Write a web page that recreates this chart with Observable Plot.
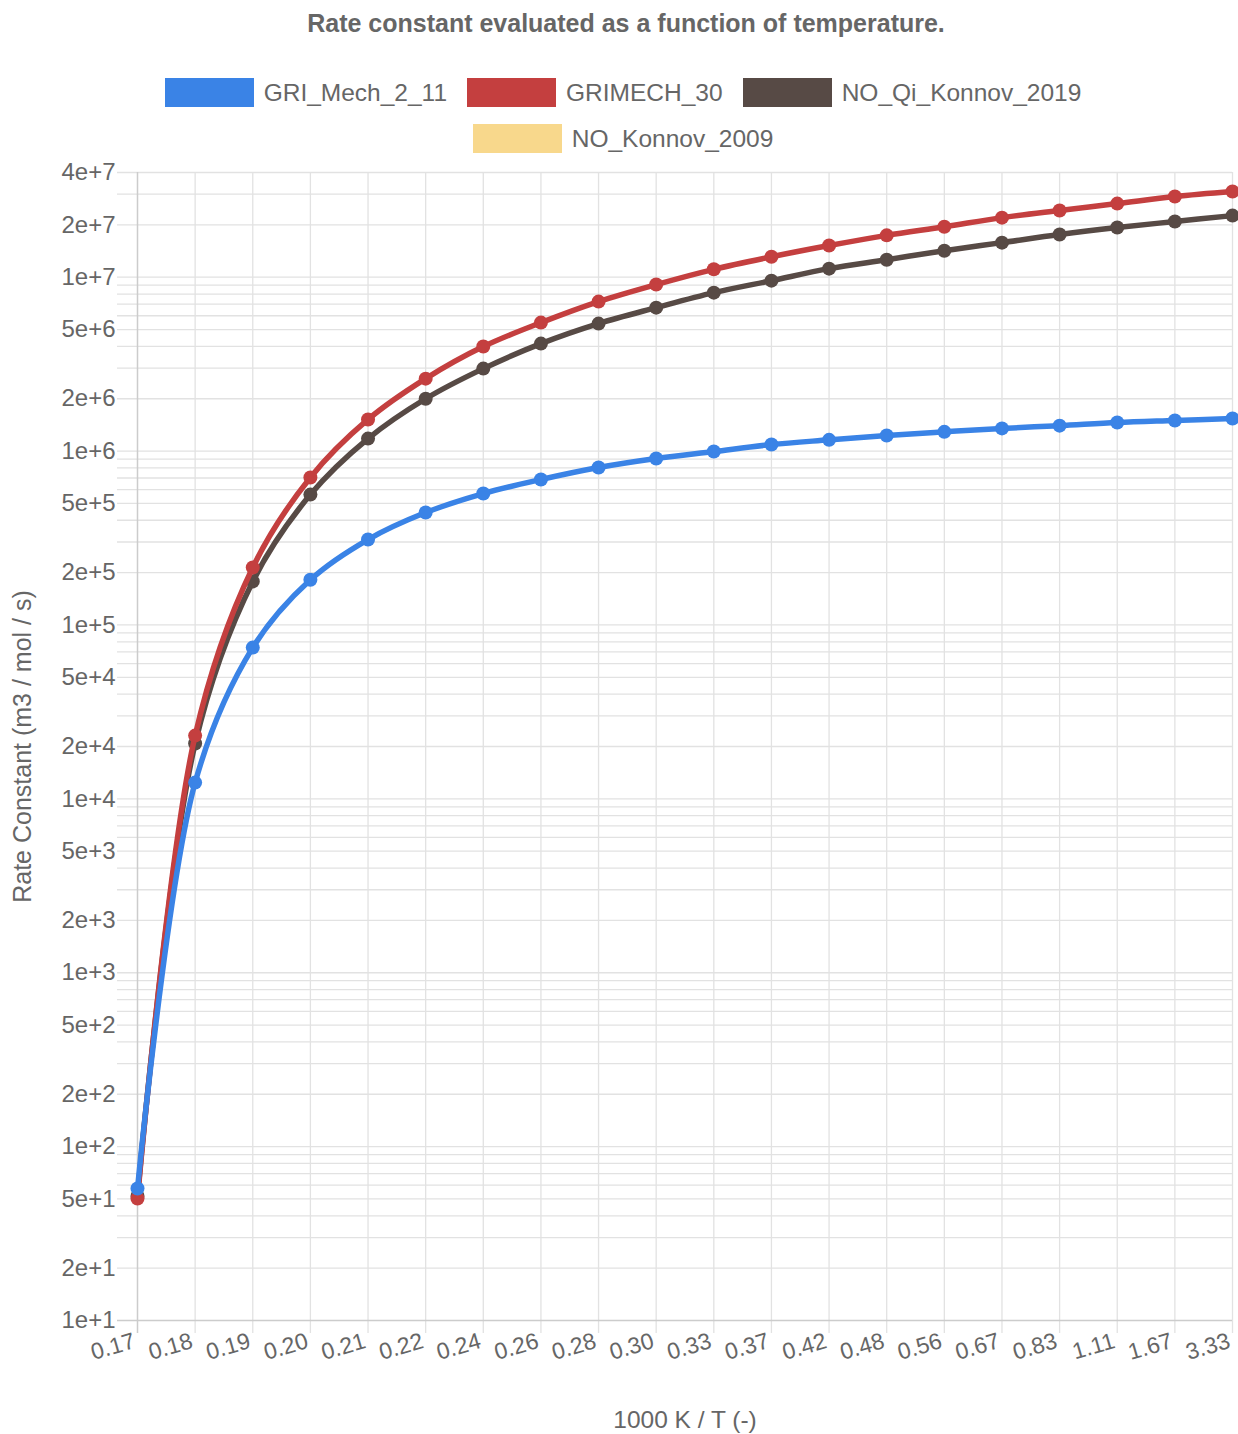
<!DOCTYPE html>
<html>
<head>
<meta charset="utf-8">
<script src="https://cdn.jsdelivr.net/npm/d3@7"></script>
<script src="https://cdn.jsdelivr.net/npm/@observablehq/plot@0.6"></script>
<style>
  html, body { margin: 0; padding: 0; background: #fff; }
  body { width: 1238px; height: 1434px; overflow: hidden; font-family: "Liberation Sans", Arial, Helvetica, sans-serif; color: #666; }
  #title { height: 46px; line-height: 46px; text-align: center; font-weight: bold; font-size: 25px; color: #666; padding-left: 14px; }
  #legend { height: 114px; box-sizing: border-box; padding-top: 32px; padding-left: 8px; }
  .row { display: flex; justify-content: center; align-items: center; height: 29px; margin-bottom: 17px; }
  .item { display: flex; align-items: center; margin: 0 10px; }
  .sw { width: 89px; height: 29px; margin-right: 10px; }
  .lab { font-size: 24.5px; white-space: nowrap; color: #666; }
  #chart svg { display: block; overflow: visible; }
</style>
</head>
<body>
<div id="title"></div>
<div id="legend"></div>
<div id="chart"></div>
<script>
// ---- data ----
const chartTitle = "Rate constant evaluated as a function of temperature.";
const xTitle = "1000 K / T (-)";
const yTitle = "Rate Constant (m3 / mol / s)";

const xLabels = ["0.17","0.18","0.19","0.20","0.21","0.22","0.24","0.26","0.28","0.30",
                 "0.33","0.37","0.42","0.48","0.56","0.67","0.83","1.11","1.67","3.33"];

const seriesNames  = ["GRI_Mech_2_11", "GRIMECH_30", "NO_Qi_Konnov_2019", "NO_Konnov_2009"];
const seriesColors = ["#3a83e6", "#c43f3f", "#574a45", "#f8d88c"];
const legendRows   = [[0, 1, 2], [3]];

const griMech211 = [57.4, 12400, 74100, 182000, 310000, 443000, 570000, 686000, 804000, 906000,
                    994000, 1.09e6, 1.16e6, 1.23e6, 1.29e6, 1.35e6, 1.40e6, 1.46e6, 1.50e6, 1.54e6];
const grimech30  = [50.3, 23100, 214000, 705000, 1.52e6, 2.61e6, 3.99e6, 5.48e6, 7.24e6, 9.07e6,
                    1.11e7, 1.31e7, 1.52e7, 1.74e7, 1.95e7, 2.20e7, 2.42e7, 2.65e7, 2.91e7, 3.11e7];
const noQiKonnov2019 = [52, 20800, 178000, 562000, 1.18e6, 2.00e6, 2.98e6, 4.15e6, 5.41e6, 6.68e6,
                    8.15e6, 9.55e6, 1.12e7, 1.26e7, 1.42e7, 1.58e7, 1.76e7, 1.93e7, 2.09e7, 2.26e7];
const noKonnov2009 = [];   // listed in the legend, no plotted values

const seriesValues = [griMech211, grimech30, noQiKonnov2019, noKonnov2009];

const yTickLabels = [1e1, 2e1, 5e1, 1e2, 2e2, 5e2, 1e3, 2e3, 5e3, 1e4, 2e4, 5e4,
                     1e5, 2e5, 5e5, 1e6, 2e6, 5e6, 1e7, 2e7, 4e7];
const yMantissas = [1, 2, 3, 4, 5, 6, 7, 8, 9];
const yDecades = [1e1, 1e2, 1e3, 1e4, 1e5, 1e6, 1e7];
const yMax = 4e7, yMin = 1e1;

// ---- title & legend ----
document.getElementById("title").textContent = chartTitle;
const legend = document.getElementById("legend");
for (const r of legendRows) {
  const row = document.createElement("div");
  row.className = "row";
  for (const i of r) {
    const item = document.createElement("div");
    item.className = "item";
    const sw = document.createElement("div");
    sw.className = "sw";
    sw.style.background = seriesColors[i];
    const lab = document.createElement("span");
    lab.className = "lab";
    lab.textContent = seriesNames[i];
    item.append(sw, lab);
    row.append(item);
  }
  legend.append(row);
}

// ---- chart ----
const yGrid = [];
for (const d of yDecades) for (const m of yMantissas) { const v = m * d; if (v <= yMax * 1.0001) yGrid.push(v); }

const fmt = d3.format(".0e");

const seriesMarks = [];
for (let s = seriesNames.length - 1; s >= 0; s--) {
  const vals = seriesValues[s];
  if (!vals.length) continue;
  const rows = vals.map((v, i) => ({t: xLabels[i], k: v}));
  seriesMarks.push(
    Plot.line(rows, {x: "t", y: "k", stroke: seriesColors[s], strokeWidth: 5.5, curve: "catmull-rom"}),
    Plot.dot(rows, {x: "t", y: "k", r: 7, fill: seriesColors[s], stroke: "none"})
  );
}

const chart = Plot.plot({
  width: 1238,
  height: 1274,
  marginTop: 12,
  marginBottom: 114,
  marginLeft: 137,
  marginRight: 6,
  style: {fontFamily: '"Liberation Sans", Arial, Helvetica, sans-serif', color: "#666", background: "#fff", overflow: "visible"},
  x: {type: "point", domain: xLabels, padding: 0, round: false, label: null},
  y: {type: "log", domain: [yMin, yMax], label: null},
  marks: [
    Plot.ruleY(yGrid.filter(v => v !== yMin), {stroke: "#e2e2e2", strokeWidth: 1.3, insetLeft: -20}),
    Plot.ruleX(xLabels.slice(1), {stroke: "#e2e2e2", strokeWidth: 1.3, insetBottom: -13}),
    Plot.ruleY([yMin], {stroke: "#cccccc", strokeWidth: 1.5, insetLeft: -20}),
    Plot.ruleX([xLabels[0]], {stroke: "#cccccc", strokeWidth: 1.5, insetBottom: -13}),
    Plot.axisY(yTickLabels, {tickSize: 0, tickPadding: 22, tickFormat: fmt, fontSize: 24, label: null}),
    Plot.axisX({tickSize: 0, tickPadding: 20, tickRotate: -16, textAnchor: "end", lineAnchor: "middle", dx: -3, fontSize: 23, label: null}),
    ...seriesMarks,
    Plot.text([yTitle], {text: d => d, frameAnchor: "left", dx: -124, rotate: -90, textAnchor: "middle", lineAnchor: "top", fontSize: 25, fill: "#666"}),
    Plot.text([xTitle], {text: d => d, frameAnchor: "bottom", dy: 100, textAnchor: "middle", lineAnchor: "middle", fontSize: 24.5, fill: "#666"})
  ]
});
document.getElementById("chart").append(chart);
</script>
</body>
</html>
